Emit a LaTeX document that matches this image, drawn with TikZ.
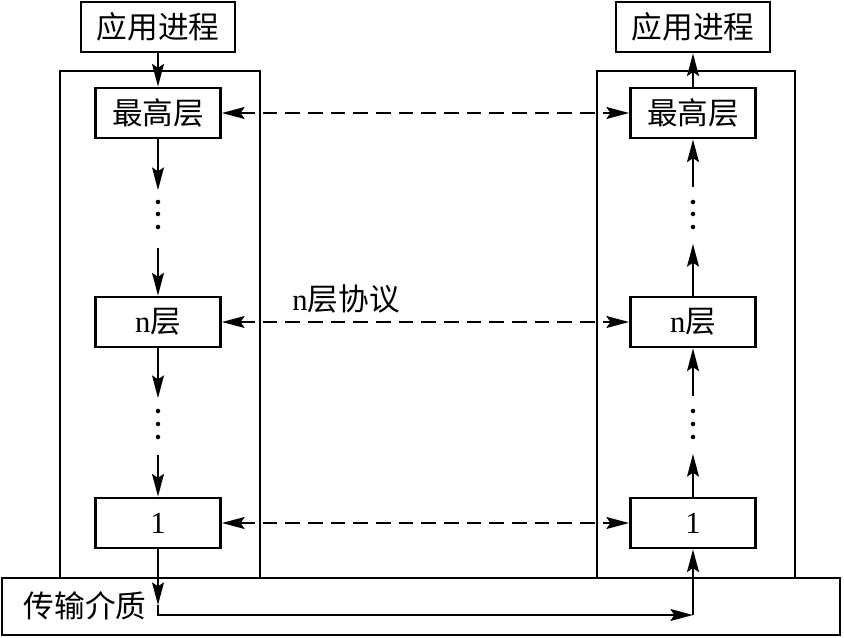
\documentclass[tikz,border=0pt]{standalone}
\usepackage{fontspec}
\setmainfont{Liberation Serif}
\newfontfamily\cjk{Noto Sans CJK SC}
\usetikzlibrary{arrows.meta}
\begin{document}
\begin{tikzpicture}[x=0.75pt,y=-0.75pt,
  txt/.style={font=\cjk\fontsize{23}{27}\selectfont},
  box/.style={draw, line width=2.2pt, inner sep=0pt, minimum width=93.75pt, minimum height=37.5pt, txt},
  topbox/.style={box, minimum width=115.5pt},
  frame/.style={draw, line width=2.2pt, inner sep=0pt},
  conn/.style={line width=1.1pt, -{Stealth[length=17pt,width=9pt,inset=3pt]}},
  peer/.style={line width=1.1pt, dash pattern=on 11pt off 6pt, {Stealth[length=17pt,width=9pt,inset=3pt]}-{Stealth[length=17pt,width=9pt,inset=3pt]}},
  dot/.style={fill=black}
]
\useasboundingbox (0,0) rectangle (844,638);
% containers
\node[frame, minimum width=150pt, minimum height=380.25pt] (outL) at (160,324.5) {};
\node[frame, minimum width=148.5pt, minimum height=380.25pt] (outR) at (696,324.5) {};
\node[frame, minimum width=628.5pt, minimum height=42.75pt] (medium) at (421,606.5) {};
% boxes
\node[topbox] (TL) at (158,27) {应用进程};
\node[topbox] (TR) at (693,27) {应用进程};
\node[box] (HL) at (158,113) {最高层};
\node[box] (HR) at (693,113) {最高层};
\node[box] (NL) at (158,322) {\textrm{n}层};
\node[box] (NR) at (693,322) {\textrm{n}层};
\node[box] (OL) at (158,523) {\textrm{1}};
\node[box] (OR) at (693,523) {\textrm{1}};
% labels
\node[txt] (proto) at (346,299) {\textrm{n}层协议};
\node[txt, anchor=west] (medlbl) at (19,606) {传输介质};
% coordinates
\coordinate (aL1) at (158,190);
\coordinate (bL1) at (158,248);
\coordinate (aL2) at (158,398);
\coordinate (bL2) at (158,455);
\coordinate (aR1) at (693,187);
\coordinate (bR1) at (693,244);
\coordinate (aR2) at (693,396);
\coordinate (bR2) at (693,454);
\coordinate (m1) at (158,605);
\coordinate (c1) at (158,615);
\coordinate (c2) at (693,615);
% left column (down)
\draw[conn] (TL.south) -- (HL.north);
\draw[conn] (HL.south) -- (aL1);
\draw[conn] (bL1) -- (NL.north);
\draw[conn] (NL.south) -- (aL2);
\draw[conn] (bL2) -- (OL.north);
% right column (up)
\draw[conn] (HR.north) -- (TR.south);
\draw[conn] (aR1) -- (HR.south);
\draw[conn] (NR.north) -- (bR1);
\draw[conn] (aR2) -- (NR.south);
\draw[conn] (OR.north) -- (bR2);
% medium path
\draw[conn] (OL.south) -- (m1);
\draw[conn] (m1) -- (c1) -- (c2);
\draw[conn] (c2) -- (OR.south);
% peer protocols
\draw[peer] (HL.east) -- (HR.west);
\draw[peer] (NL.east) -- (NR.west);
\draw[peer] (OL.east) -- (OR.west);
% dots
\foreach \x in {158,693}{
  \foreach \y in {202,214,227,411,424,437}{
    \fill[dot] (\x,\y) circle (1.7pt);
  }
}
\end{tikzpicture}
\end{document}
